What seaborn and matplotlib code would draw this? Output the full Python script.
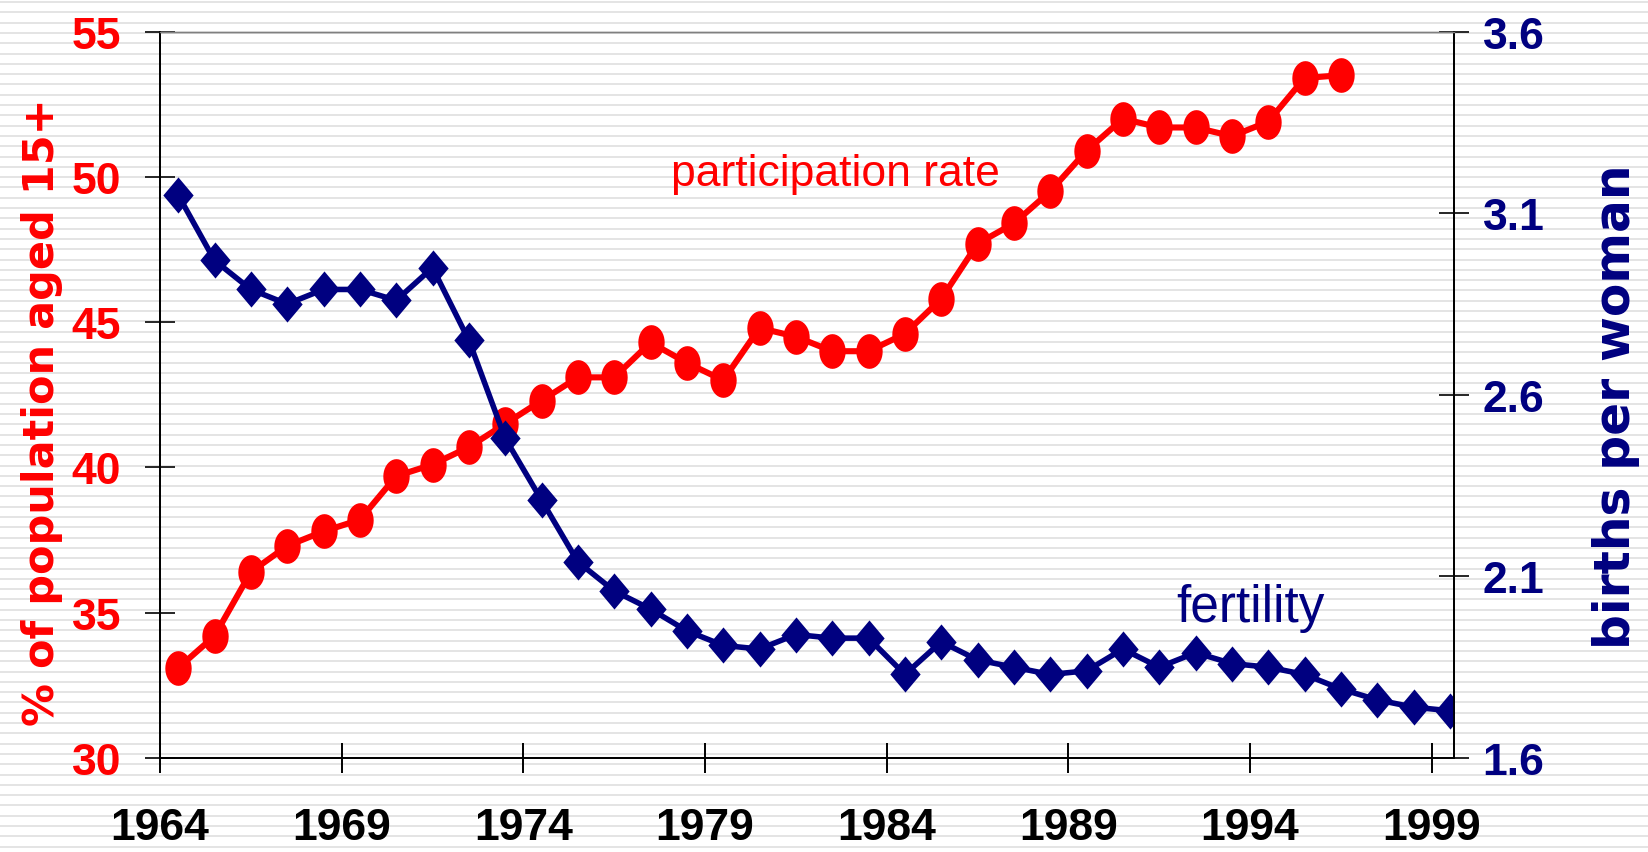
import numpy as np
import pandas as pd
import matplotlib
matplotlib.use("Agg")
import matplotlib.pyplot as plt
from matplotlib.path import Path
import seaborn as sns

# data (one point per year, plotted mid-year)
part_years = list(range(1964, 1997))
participation = [33.1, 34.2, 36.4, 37.3, 37.8, 38.2, 39.7, 40.1, 40.7, 41.5,
                 42.3, 43.1, 43.1, 44.3, 43.6, 43.0, 44.8, 44.5, 44.0, 44.0,
                 44.6, 45.8, 47.7, 48.4, 49.5, 50.9, 52.0, 51.7, 51.7, 51.4,
                 51.9, 53.4, 53.5]
fert_years = list(range(1964, 2000))
fertility = [3.15, 2.97, 2.89, 2.85, 2.89, 2.89, 2.86, 2.95, 2.75, 2.48,
             2.31, 2.14, 2.06, 2.01, 1.95, 1.91, 1.90, 1.94, 1.93, 1.93,
             1.83, 1.92, 1.87, 1.85, 1.83, 1.84, 1.90, 1.85, 1.89, 1.86,
             1.85, 1.83, 1.79, 1.76, 1.74, 1.73]
x_ticks = list(range(1964, 2000, 5))
left_ticks = [30, 35, 40, 45, 50, 55]
right_ticks = [1.6, 2.1, 2.6, 3.1, 3.6]

RED = "#ff0000"
NAVY = "#000080"

sns.set_style("white")
plt.rcParams["font.family"] = ["Liberation Sans", "DejaVu Sans"]

df_p = pd.DataFrame({"year": np.array(part_years) + 0.5, "rate": participation})
df_f = pd.DataFrame({"year": np.array(fert_years) + 0.5, "tfr": fertility})

fig = plt.figure(figsize=(16.48, 8.53), dpi=100)

# striped background over the whole picture
bg = fig.add_axes([0, 0, 1, 1], zorder=-1)
bg.set_xlim(0, 1)
bg.set_ylim(853, 0)
for yy in np.arange(3, 853, 10.3):
    bg.axhline(yy, color="#dfdfdf", lw=1.2)
bg.axis("off")

ax = fig.add_axes([0.0971, 0.1102, 0.7849, 0.8516])
ax.patch.set_alpha(0)

t = np.linspace(0, 2 * np.pi, 41)
ellipse = Path(np.column_stack([0.76 * np.cos(t), np.sin(t)]))
diamond = Path([(0, -1), (0.84, 0), (0, 1), (-0.84, 0), (0, -1)])

sns.lineplot(data=df_p, x="year", y="rate", ax=ax, color=RED, lw=4.4,
             marker=ellipse, markersize=25, markeredgewidth=0,
             markeredgecolor=RED)
ax2 = ax.twinx()
sns.lineplot(data=df_f, x="year", y="tfr", ax=ax2, color=NAVY, lw=4.0,
             marker=diamond, markersize=26, markeredgewidth=0,
             markeredgecolor=NAVY)

ax.set_xlim(1964, 1999.6)
ax.set_ylim(30, 55)
ax2.set_ylim(1.6, 3.6)
ax.set_xticks(x_ticks)
ax.set_yticks(left_ticks)
ax2.set_yticks(right_ticks)
ax2.set_yticklabels([f"{v:.1f}" for v in right_ticks])

for a in (ax, ax2):
    a.grid(False)
    for s in a.spines.values():
        s.set_color("black")
        s.set_linewidth(1.3)
    a.spines["top"].set_color("#808080")
    a.spines["top"].set_linewidth(1.0)

ax.tick_params(axis="x", direction="inout", length=22, width=1.4,
               pad=24, labelsize=32, colors="black", bottom=True)
ax.tick_params(axis="y", direction="inout", length=22, width=1.4,
               pad=17, labelsize=32, labelcolor=RED, left=True)
ax2.tick_params(axis="y", direction="inout", length=22, width=1.4,
                pad=10, labelsize=32, labelcolor=NAVY, right=True)
for lab in ax.get_xticklabels() + ax.get_yticklabels() + ax2.get_yticklabels():
    lab.set_fontweight("bold")

ax.set_xlabel("")
ax.set_ylabel("% of population aged 15+", color=RED, fontsize=31,
              fontweight="bold", family=["DejaVu Sans"])
ax.yaxis.set_label_coords(-0.075, 0.478)
ax2.set_ylabel("births per woman", color=NAVY, fontsize=35,
               fontweight="bold", family=["DejaVu Sans"])
ax2.yaxis.set_label_coords(1.107, 0.485)

ax.text(1982.6, 50.1, "participation rate", color=RED, fontsize=32,
        ha="center", va="center")
ax.text(1994.0, 35.17, "fertility", color=NAVY, fontsize=37,
        ha="center", va="center")

fig.savefig("out.png", dpi=100)
